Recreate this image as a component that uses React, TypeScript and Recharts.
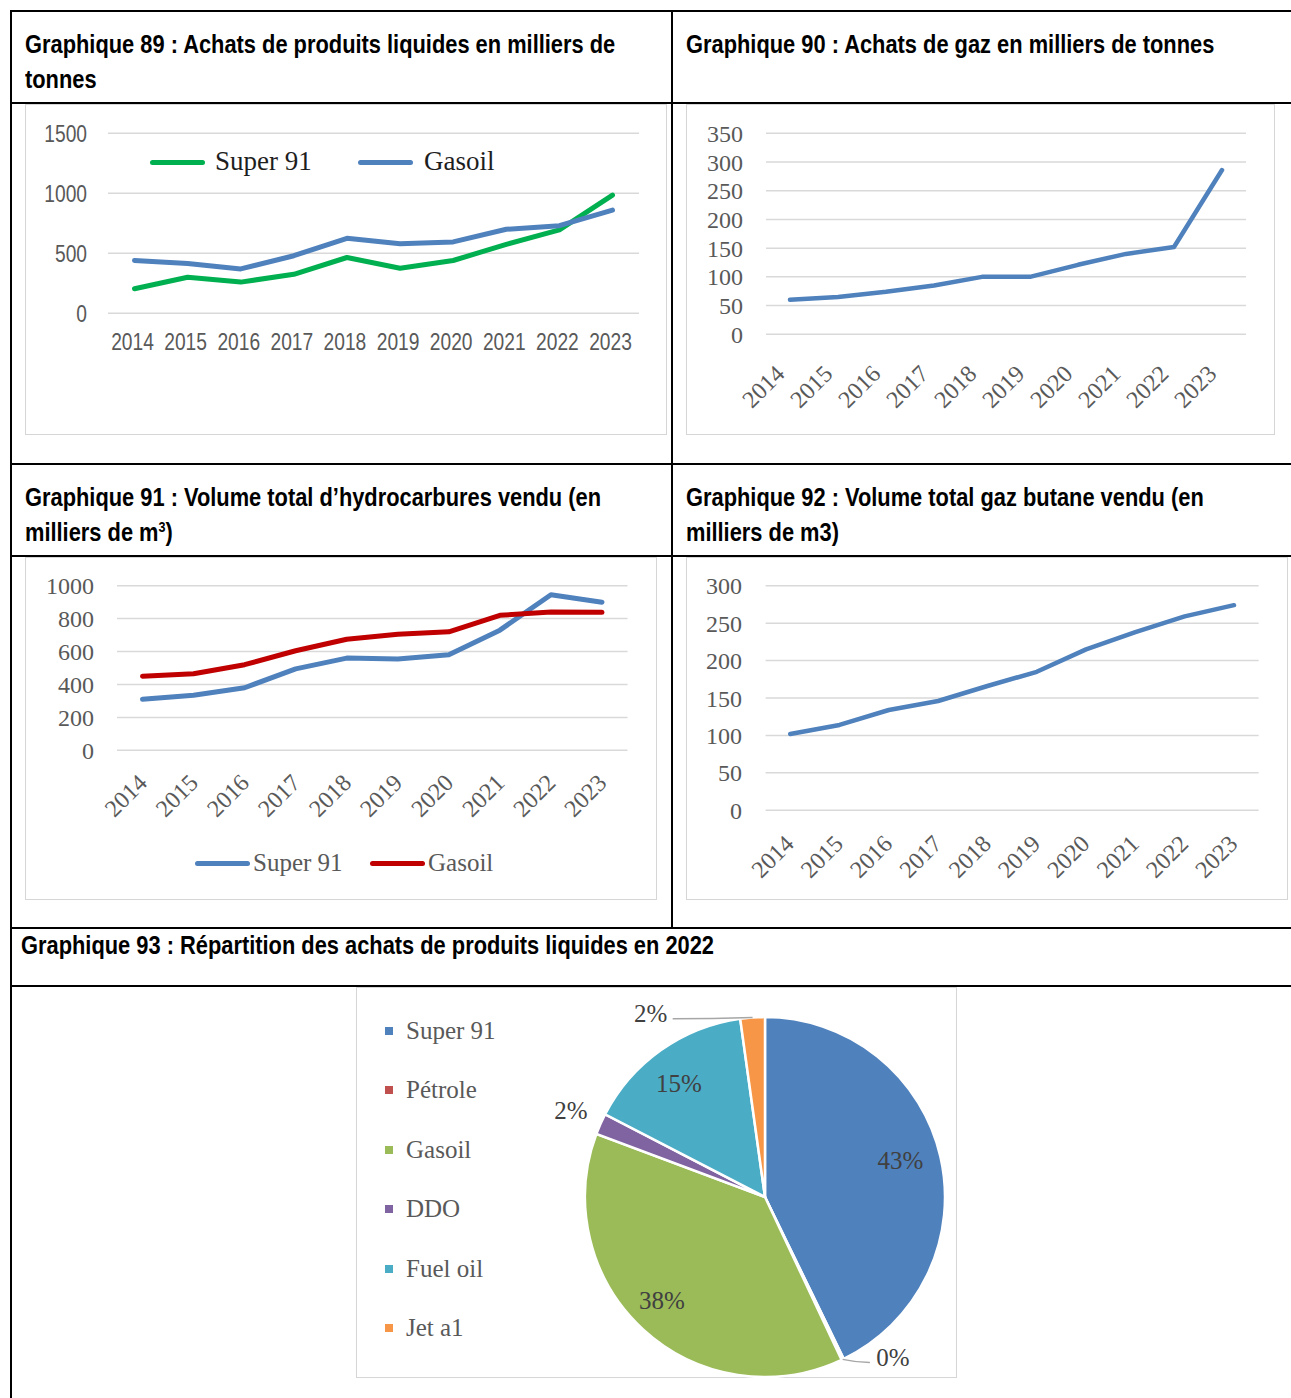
import React from 'react';
import { LineChart, Line, XAxis, YAxis, CartesianGrid, Legend, PieChart, Pie, Cell } from 'recharts';

// ---------- data ----------
const years = ['2014', '2015', '2016', '2017', '2018', '2019', '2020', '2021', '2022', '2023'];
// Graphique 89
const achatsSuper91 = [205, 300, 260, 325, 465, 375, 440, 575, 695, 985];
const achatsGasoil = [440, 415, 370, 480, 625, 580, 595, 700, 730, 860];
const ticks89 = [0, 500, 1000, 1500];
// Graphique 90
const achatsGaz = [60, 65, 74, 85, 100, 100, 121, 140, 152, 286];
const ticks90 = [0, 50, 100, 150, 200, 250, 300, 350];
// Graphique 91
const venteSuper91 = [310, 335, 380, 495, 560, 555, 580, 730, 945, 900];
const venteGasoil = [450, 465, 520, 605, 675, 705, 720, 820, 840, 838];
const ticks91 = [0, 200, 400, 600, 800, 1000];
// Graphique 92
const venteButane = [102, 114, 134, 146, 166, 185, 215, 238, 259, 274];
const ticks92 = [0, 50, 100, 150, 200, 250, 300];
// Graphique 93
const pieNames = ['Super 91', 'Pétrole', 'Gasoil', 'DDO', 'Fuel oil', 'Jet a1'];
const pieValues = [42.8, 0.2, 37.7, 1.9, 15.2, 2.2];

// ---------- tables for the library ----------
const data89 = years.map((y, i) => ({ year: y, super91: achatsSuper91[i], gasoil: achatsGasoil[i] }));
const data90 = years.map((y, i) => ({ year: y, gaz: achatsGaz[i] }));
const data91 = years.map((y, i) => ({ year: y, super91: venteSuper91[i], gasoil: venteGasoil[i] }));
const data92 = years.map((y, i) => ({ year: y, butane: venteButane[i] }));
const data93 = pieNames.map((n, i) => ({ name: n, value: pieValues[i] }));

// ---------- styles ----------
const SANS = '"Liberation Sans", Arial, sans-serif';
const SERIF = '"Liberation Serif", "Times New Roman", serif';
const GRAY = '#595959';
const GRID = '#d9d9d9';
const BLUE = '#4F81BD';
const GREEN = '#00B050';
const RED = '#C00000';
const pieColors = ['#4F81BD', '#C0504D', '#9BBB59', '#8064A2', '#4BACC6', '#F79646'];

const RotTick = (props: any) => {
  const { x, y, payload, ox, oy } = props;
  const ax = x + ox;
  const ay = y + oy;
  return (
    <text x={ax} y={ay} transform={`rotate(-45 ${ax} ${ay})`} textAnchor="end" fill={GRAY} fontFamily={SERIF} fontSize={24}>
      {payload.value}
    </text>
  );
};

// condensed sans tick (Arial Narrow look)
const NarrowTick = (props: any) => {
  const { x, y, payload, anchor, dy, ox = 0 } = props;
  return (
    <g transform={`translate(${x + ox},${y})`}>
      <text x={0} y={0} dy={dy} transform="scale(0.8,1)" textAnchor={anchor} fill={GRAY} fontFamily={SANS} fontSize={24}>
        {payload.value}
      </text>
    </g>
  );
};

type LegItem = { label: string; color: string; lineX: number; textX: number };
const LineLegend = ({ items, y, fontSize, color }: { items: LegItem[]; y: number; fontSize: number; color: string }) => (
  <div style={{ position: 'relative', height: 0 }}>
    {items.map((it) => (
      <React.Fragment key={it.label}>
        <div style={{ position: 'absolute', left: it.lineX, top: y - 2.5, width: 55, height: 5, borderRadius: 3, background: it.color }} />
        <div style={{ position: 'absolute', left: it.textX, top: y - fontSize * 0.62, fontFamily: SERIF, fontSize, color, whiteSpace: 'nowrap', lineHeight: 1.2 }}>
          {it.label}
        </div>
      </React.Fragment>
    ))}
  </div>
);

const RADIAN = Math.PI / 180;
const pieLabelPlacement = [
  { r: 0.78, shift: 2.3, leader: false },
  { r: 1.14, shift: 13, leader: true },
  { r: 0.81, shift: -2.3, leader: false },
  { r: 1.18, shift: 0, leader: false },
  { r: 0.79, shift: 2, leader: false },
  { r: 1.2, shift: 28, leader: true },
];
const renderPieLabel = (props: any) => {
  const { cx, cy, midAngle, outerRadius, percent, index } = props;
  const p = pieLabelPlacement[index];
  const a = (midAngle + p.shift) * RADIAN;
  const lx = cx + outerRadius * p.r * Math.cos(a);
  const ly = cy - outerRadius * p.r * Math.sin(a);
  let leader = null;
  if (p.leader) {
    const m = midAngle * RADIAN;
    const ex = cx + outerRadius * Math.cos(m);
    const ey = cy - outerRadius * Math.sin(m);
    const sx = lx + (ex > lx ? 22 : -23);
    const sy = ly + 5;
    const mx = (sx + ex) / 2;
    leader = <path d={`M${sx},${sy} Q${mx},${sy} ${ex},${ey}`} stroke="#a6a6a6" strokeWidth={1.5} fill="none" />;
  }
  return (
    <g key={`lbl-${index}`}>
      {leader}
      <text x={lx} y={ly} textAnchor="middle" dominantBaseline="central" fill="#404040" fontFamily={SERIF} fontSize={25}>
        {`${Math.round(percent * 100)}%`}
      </text>
    </g>
  );
};

const PieLegend = () => (
  <div style={{ position: 'relative', width: 200, height: 391 }}>
    {pieNames.map((n, i) => (
      <div key={n} style={{ position: 'absolute', left: 29, top: 44 + i * 59.4 - 16, height: 32, display: 'flex', alignItems: 'center' }}>
        <span style={{ width: 8, height: 8, background: pieColors[i], marginRight: 13, display: 'inline-block' }} />
        <span style={{ fontFamily: SERIF, fontSize: 25, color: GRAY, whiteSpace: 'nowrap' }}>{n}</span>
      </div>
    ))}
  </div>
);

// ---------- layout helpers ----------
const hLine = (y: number, x1 = 10, x2 = 1291) => (
  <div style={{ position: 'absolute', left: x1, top: y - 1, width: x2 - x1, height: 2, background: '#000' }} />
);
const vLine = (x: number, y1: number, y2: number) => (
  <div style={{ position: 'absolute', left: x - 1, top: y1, width: 2, height: y2 - y1, background: '#000' }} />
);
const frame = (x: number, y: number, w: number, h: number) => (
  <div style={{ position: 'absolute', left: x, top: y, width: w, height: h, border: '1.5px solid #d6d6d6', boxSizing: 'border-box' }} />
);
const headStyle: React.CSSProperties = {
  position: 'absolute',
  fontFamily: SANS,
  fontWeight: 'bold',
  fontSize: 26,
  lineHeight: '35px',
  color: '#000',
  whiteSpace: 'nowrap',
  transform: 'scaleX(0.84)',
  transformOrigin: '0 0',
};

const yTick = { fill: GRAY, fontFamily: SERIF, fontSize: 24 };

export default function App() {
  return (
    <div style={{ position: 'absolute', left: 0, top: 0, width: 1291, height: 1398, background: '#fff', overflow: 'hidden' }}>
      {/* table grid */}
      {hLine(11)}
      {vLine(11, 10, 1398)}
      {vLine(672.3, 10, 928.5)}
      {hLine(102.5)}
      {hLine(464.3)}
      {hLine(556)}
      {hLine(927.7)}
      {hLine(986)}

      {/* headings */}
      <div style={{ ...headStyle, left: 25, top: 26.5 }}>
        Graphique 89 : Achats de produits liquides en milliers de
        <br />
        tonnes
      </div>
      <div style={{ ...headStyle, left: 686, top: 26.5 }}>Graphique 90 : Achats de gaz en milliers de tonnes</div>
      <div style={{ ...headStyle, left: 25, top: 479.5 }}>
        Graphique 91 : Volume total d’hydrocarbures vendu (en
        <br />
        milliers de m<sup style={{ fontSize: 15, verticalAlign: 'top', lineHeight: '24px' }}>3</sup>)
      </div>
      <div style={{ ...headStyle, left: 686, top: 479.5 }}>
        Graphique 92 : Volume total gaz butane vendu (en
        <br />
        milliers de m3)
      </div>
      <div style={{ ...headStyle, left: 21, top: 927.5 }}>Graphique 93 : Répartition des achats de produits liquides en 2022</div>

      {/* frames */}
      {frame(25, 104, 642, 331)}
      {frame(686, 104, 589, 331)}
      {frame(25, 557, 632, 343)}
      {frame(686, 557, 602, 343)}
      {frame(356, 987, 601, 391)}

      {/* Graphique 89 */}
      <div style={{ position: 'absolute', left: 25, top: 104 }}>
        <LineChart width={642} height={331} data={data89} margin={{ top: 29.3, right: 28, bottom: 81.7, left: 0 }}>
          <CartesianGrid vertical={false} stroke={GRID} strokeWidth={1.5} />
          <XAxis dataKey="year" scale="point" padding={{ left: 26.5, right: 26.5 }} axisLine={false} tickLine={false} tickSize={0} tickMargin={20} height={40} interval={0}
            tick={(p: any) => <NarrowTick {...p} anchor="middle" dy="0.71em" ox={-2} />} />
          <YAxis type="number" domain={[0, 1500]} ticks={ticks89} interval={0} axisLine={false} tickLine={false} tickSize={0} tickMargin={21} width={83}
            tick={(p: any) => <NarrowTick {...p} anchor="end" dy="0.355em" />} />
          <Legend layout="horizontal" verticalAlign="middle" align="center" wrapperStyle={{ top: 0, left: 0, width: 642, height: 0 }}
            content={() => (
              <LineLegend y={58} fontSize={27} color="#1e1e1e"
                items={[
                  { label: 'Super 91', color: GREEN, lineX: 125, textX: 190 },
                  { label: 'Gasoil', color: BLUE, lineX: 333, textX: 399 },
                ]} />
            )} />
          <Line type="linear" dataKey="super91" name="Super 91" stroke={GREEN} strokeWidth={5} dot={false} strokeLinecap="round" strokeLinejoin="round" isAnimationActive={false} />
          <Line type="linear" dataKey="gasoil" name="Gasoil" stroke={BLUE} strokeWidth={5} dot={false} strokeLinecap="round" strokeLinejoin="round" isAnimationActive={false} />
        </LineChart>
      </div>

      {/* Graphique 90 */}
      <div style={{ position: 'absolute', left: 686, top: 104 }}>
        <LineChart width={589} height={331} data={data90} margin={{ top: 29.3, right: 29, bottom: 40.7, left: 0 }}>
          <CartesianGrid vertical={false} stroke={GRID} strokeWidth={1.5} />
          <XAxis dataKey="year" scale="point" padding={{ left: 24, right: 24 }} axisLine={false} tickLine={false} tickSize={0} tickMargin={0} height={60} interval={0}
            tick={(p: any) => <RotTick {...p} ox={-4} oy={41} />} />
          <YAxis type="number" domain={[0, 350]} ticks={ticks90} interval={0} axisLine={false} tickLine={false} tickSize={0} tickMargin={23} width={80} tick={yTick} />
          <Line type="linear" dataKey="gaz" name="Gaz" stroke={BLUE} strokeWidth={4.5} dot={false} strokeLinecap="round" strokeLinejoin="round" isAnimationActive={false} />
        </LineChart>
      </div>

      {/* Graphique 91 */}
      <div style={{ position: 'absolute', left: 25, top: 557 }}>
        <LineChart width={632} height={343} data={data91} margin={{ top: 28.7, right: 29.5, bottom: 79.7, left: 0 }}>
          <CartesianGrid vertical={false} stroke={GRID} strokeWidth={1.5} />
          <XAxis dataKey="year" scale="point" padding={{ left: 25.5, right: 25.5 }} axisLine={false} tickLine={false} tickSize={0} tickMargin={0} height={70} interval={0}
            tick={(p: any) => <RotTick {...p} ox={6} oy={34} />} />
          <YAxis type="number" domain={[0, 1000]} ticks={ticks91} interval={0} axisLine={false} tickLine={false} tickSize={0} tickMargin={23} width={92} tick={yTick} />
          <Legend layout="horizontal" verticalAlign="middle" align="center" wrapperStyle={{ top: 0, left: 0, width: 632, height: 0 }}
            content={() => (
              <LineLegend y={306} fontSize={25} color={GRAY}
                items={[
                  { label: 'Super 91', color: BLUE, lineX: 170, textX: 228 },
                  { label: 'Gasoil', color: RED, lineX: 345, textX: 403 },
                ]} />
            )} />
          <Line type="linear" dataKey="super91" name="Super 91" stroke={BLUE} strokeWidth={5} dot={false} strokeLinecap="round" strokeLinejoin="round" isAnimationActive={false} />
          <Line type="linear" dataKey="gasoil" name="Gasoil" stroke={RED} strokeWidth={5} dot={false} strokeLinecap="round" strokeLinejoin="round" isAnimationActive={false} />
        </LineChart>
      </div>

      {/* Graphique 92 */}
      <div style={{ position: 'absolute', left: 686, top: 557 }}>
        <LineChart width={602} height={343} data={data92} margin={{ top: 28.7, right: 29.4, bottom: 29.7, left: 0 }}>
          <CartesianGrid vertical={false} stroke={GRID} strokeWidth={1.5} />
          <XAxis dataKey="year" scale="point" padding={{ left: 24.6, right: 24.6 }} axisLine={false} tickLine={false} tickSize={0} tickMargin={0} height={60} interval={0}
            tick={(p: any) => <RotTick {...p} ox={5} oy={35} />} />
          <YAxis type="number" domain={[0, 300]} ticks={ticks92} interval={0} axisLine={false} tickLine={false} tickSize={0} tickMargin={23.6} width={79.6} tick={yTick} />
          <Line type="linear" dataKey="butane" name="Gaz butane" stroke={BLUE} strokeWidth={4.5} dot={false} strokeLinecap="round" strokeLinejoin="round" isAnimationActive={false} />
        </LineChart>
      </div>

      {/* Graphique 93 */}
      <div style={{ position: 'absolute', left: 356, top: 987 }}>
        <PieChart width={601} height={391} margin={{ top: 0, right: 0, bottom: 0, left: 0 }}>
          <Legend layout="vertical" verticalAlign="middle" align="center" wrapperStyle={{ top: 0, left: 0, width: 200, height: 391 }} content={() => <PieLegend />} />
          <Pie data={data93} dataKey="value" nameKey="name" cx={409} cy={210} outerRadius={180} startAngle={90} endAngle={-270}
            stroke="#fff" strokeWidth={2.5} label={renderPieLabel} labelLine={false} isAnimationActive={false}>
            {data93.map((d, i) => (
              <Cell key={d.name} fill={pieColors[i]} />
            ))}
          </Pie>
        </PieChart>
      </div>
    </div>
  );
}
